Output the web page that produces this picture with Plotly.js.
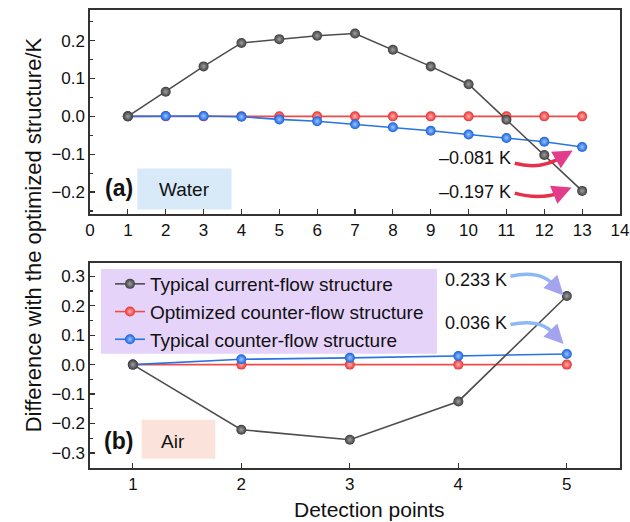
<!DOCTYPE html>
<html>
<head>
<meta charset="utf-8">
<script src="https://cdn.plot.ly/plotly-3.0.1.min.js"></script>
<style>
  html, body { margin: 0; padding: 0; background: #fff; }
  #chart { width: 630px; height: 522px; }
</style>
</head>
<body>
<div id="chart"></div>
<script>
// ---- Data ----
const seriesNames = ['Typical current-flow structure', 'Optimized counter-flow structure', 'Typical counter-flow structure'];

const xWater = [1, 2, 3, 4, 5, 6, 7, 8, 9, 10, 11, 12, 13];
const waterCurrent = [0, 0.065, 0.132, 0.194, 0.204, 0.213, 0.219, 0.176, 0.132, 0.085, -0.009, -0.102, -0.197];
const waterOptimized = [0, 0, 0, 0, 0, 0, 0, 0, 0, 0, 0, 0, 0];
const waterCounter = [0, 0.001, 0.001, -0.001, -0.008, -0.013, -0.021, -0.029, -0.038, -0.048, -0.057, -0.067, -0.081];

const xAir = [1, 2, 3, 4, 5];
const airCurrent = [0, -0.221, -0.255, -0.125, 0.233];
const airOptimized = [0, 0, 0, 0, 0];
const airCounter = [0, 0.018, 0.023, 0.029, 0.036];

const waterTicks = [0, 1, 2, 3, 4, 5, 6, 7, 8, 9, 10, 11, 12, 13, 14];
const airTicks = [1, 2, 3, 4, 5];

// ---- Styles ----
const FONT = 'Liberation Sans, Arial, Helvetica, sans-serif';
const styles = [
  {line: '#4d4d4d', marker: '#3c3c3c', grad: '#a0a0a0'},
  {line: '#f04a4a', marker: '#e83030', grad: '#ffb0b0'},
  {line: '#2a74e0', marker: '#1560dd', grad: '#9cc4ff'}
];

function mk(x, y, i, xa, ya, show) {
  return {
    x: x, y: y, type: 'scatter', mode: 'lines+markers',
    name: seriesNames[i], xaxis: xa, yaxis: ya, showlegend: show,
    legendrank: i + 1,
    line: {color: styles[i].line, width: 1.6},
    marker: {size: 10, color: styles[i].marker,
             gradient: {type: 'radial', color: styles[i].grad},
             line: {width: 0}}
  };
}

const traces = [
  mk(xWater, waterOptimized, 1, 'x', 'y', false),
  mk(xWater, waterCounter, 2, 'x', 'y', false),
  mk(xWater, waterCurrent, 0, 'x', 'y', false),
  mk(xAir, airOptimized, 1, 'x2', 'y2', true),
  mk(xAir, airCounter, 2, 'x2', 'y2', true),
  mk(xAir, airCurrent, 0, 'x2', 'y2', true)
];

const axisCommon = {
  showline: true, mirror: true, linecolor: '#333', linewidth: 1.6,
  ticks: 'inside', ticklen: 5, tickwidth: 1.2, tickcolor: '#333',
  showgrid: false, zeroline: false,
  tickfont: {family: FONT, size: 17, color: '#111'}
};

const topDomain = [0.5546, 1];
const botDomain = [0, 0.4476];

function swoosh(xref, yref, p0, c, p1, color) {
  return {type: 'path', xref: xref, yref: yref,
          path: 'M ' + p0[0] + ',' + p0[1] + ' Q ' + c[0] + ',' + c[1] + ' ' + p1[0] + ',' + p1[1],
          line: {color: color, width: 3.5}, layer: 'above'};
}
function head(xref, yref, from, to, color) {
  return {text: '', xref: xref, yref: yref, axref: xref, ayref: yref,
          x: to[0], y: to[1], ax: from[0], ay: from[1],
          showarrow: true, arrowhead: 2, arrowsize: 1.1, arrowwidth: 3.5, arrowcolor: color};
}

const layout = {
  width: 630, height: 522,
  margin: {l: 90, r: 10, t: 10, b: 54},
  paper_bgcolor: '#fff', plot_bgcolor: '#fff',
  font: {family: FONT, size: 17, color: '#111'},
  xaxis: Object.assign({}, axisCommon, {
    domain: [0, 1], anchor: 'y', range: [0, 14],
    tickmode: 'array', tickvals: waterTicks, ticktext: waterTicks.map(String)
  }),
  yaxis: Object.assign({}, axisCommon, {
    domain: topDomain, anchor: 'x', range: [-0.258, 0.281],
    tickvals: [-0.2, -0.1, 0, 0.1, 0.2], tickformat: '.1f',
    minor: {ticks: 'inside', dtick: 0.05, tick0: 0, ticklen: 3, tickcolor: '#333'}
  }),
  xaxis2: Object.assign({}, axisCommon, {
    domain: [0, 1], anchor: 'y2', range: [0.605, 5.49],
    tickmode: 'array', tickvals: airTicks, ticktext: airTicks.map(String)
  }),
  yaxis2: Object.assign({}, axisCommon, {
    domain: botDomain, anchor: 'x2', range: [-0.351, 0.345],
    tickvals: [-0.3, -0.2, -0.1, 0, 0.1, 0.2, 0.3], tickformat: '.1f',
    minor: {ticks: 'inside', dtick: 0.05, tick0: 0, ticklen: 3, tickcolor: '#333'}
  }),
  legend: {
    x: 0.0377, y: 0.4432, xanchor: 'left', yanchor: 'top',
    bgcolor: 'rgba(0,0,0,0)', borderwidth: 0,
    font: {family: FONT, size: 19, color: '#111'},
    tracegroupgap: 0, itemwidth: 30
  },
  shapes: [
    {type: 'rect', xref: 'x', yref: 'y', x0: 1.25, x1: 3.74, y0: -0.246, y1: -0.138,
     fillcolor: '#d8eaf8', line: {width: 0}, layer: 'below'},
    {type: 'rect', xref: 'x2', yref: 'y2', x0: 1.08, x1: 1.76, y0: -0.32, y1: -0.187,
     fillcolor: '#fbe3dc', line: {width: 0}, layer: 'below'},
    {type: 'rect', xref: 'x2', yref: 'y2', x0: 0.706, x1: 3.803, y0: 0.037, y1: 0.325,
     fillcolor: '#e6d3fa', line: {width: 0}, layer: 'below'},
    swoosh('x', 'y', [11.22, -0.124], [11.9, -0.142], [12.45, -0.108], '#e8304a'),
    swoosh('x', 'y', [11.22, -0.203], [11.9, -0.222], [12.45, -0.200], '#e8304a'),
    swoosh('x2', 'y2', [4.48, 0.300], [4.78, 0.325], [4.9, 0.26], '#8db8f4'),
    swoosh('x2', 'y2', [4.48, 0.136], [4.78, 0.160], [4.9, 0.095], '#8db8f4')
  ],
  annotations: [
    {text: 'Difference with the optimized structure/K', xref: 'paper', yref: 'paper',
     x: -0.134, y: 0.509, textangle: -90, showarrow: false,
     font: {family: FONT, size: 22, color: '#111'}},
    {text: 'Detection points', xref: 'paper', yref: 'paper',
     x: 0.528, y: -0.0917, yanchor: 'middle', showarrow: false,
     font: {family: FONT, size: 21, color: '#111'}},
    {text: '<b>(a)</b>', xref: 'x', yref: 'y', x: 0.77, y: -0.19, showarrow: false,
     font: {family: FONT, size: 23, color: '#111'}},
    {text: 'Water', xref: 'x', yref: 'y', x: 2.5, y: -0.192, showarrow: false,
     font: {family: FONT, size: 19, color: '#111'}},
    {text: '<b>(b)</b>', xref: 'x2', yref: 'y2', x: 0.87, y: -0.258, showarrow: false,
     font: {family: FONT, size: 23, color: '#111'}},
    {text: 'Air', xref: 'x2', yref: 'y2', x: 1.37, y: -0.262, showarrow: false,
     font: {family: FONT, size: 19, color: '#111'}},
    {text: '\u20130.081 K', xref: 'x', yref: 'y', x: 11.17, y: -0.110, xanchor: 'right', showarrow: false,
     font: {family: FONT, size: 18, color: '#111'}},
    {text: '\u20130.197 K', xref: 'x', yref: 'y', x: 11.17, y: -0.200, xanchor: 'right', showarrow: false,
     font: {family: FONT, size: 18, color: '#111'}},
    {text: '0.233 K', xref: 'x2', yref: 'y2', x: 3.86, y: 0.287, xanchor: 'left', showarrow: false,
     font: {family: FONT, size: 18, color: '#111'}},
    {text: '0.036 K', xref: 'x2', yref: 'y2', x: 3.86, y: 0.141, xanchor: 'left', showarrow: false,
     font: {family: FONT, size: 18, color: '#111'}},
    head('x', 'y', [12.35, -0.113], [12.75, -0.09], '#e23c8a'),
    head('x', 'y', [12.35, -0.203], [12.72, -0.188], '#e23c8a'),
    head('x2', 'y2', [4.88, 0.27], [4.97, 0.235], '#a4a3f0'),
    head('x2', 'y2', [4.88, 0.105], [4.97, 0.07], '#a4a3f0')
  ]
};

Plotly.newPlot('chart', traces, layout, {displayModeBar: false, staticPlot: true});
</script>
</body>
</html>
